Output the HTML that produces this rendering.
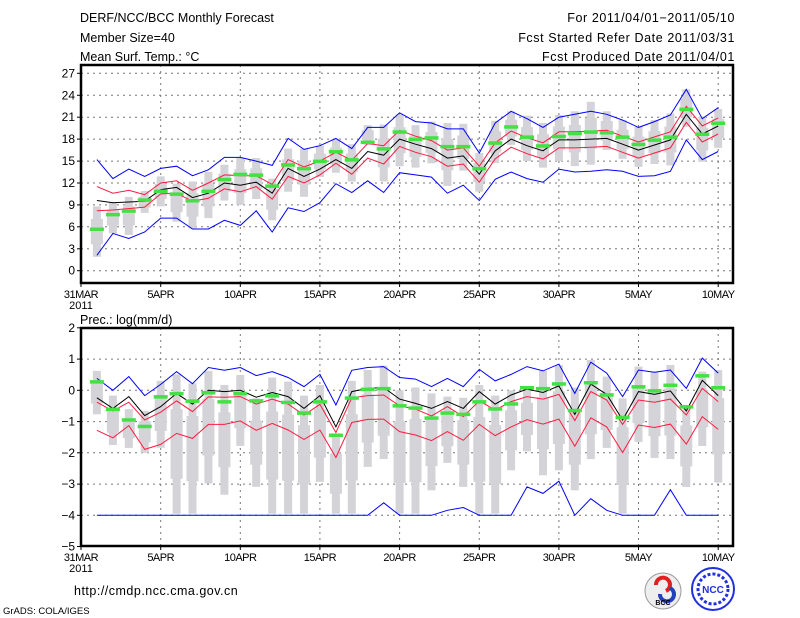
<!DOCTYPE html>
<html><head><meta charset="utf-8"><style>
body{margin:0;background:#fff;width:800px;height:618px;overflow:hidden}
svg{display:block;font-family:"Liberation Sans",sans-serif}
</style></head><body>
<svg id="s" width="800" height="618" xmlns="http://www.w3.org/2000/svg"></svg>
<script>
var S=document.getElementById('s'),h='';
function X(d){return 81+15.93*d}
function Yt(v){return 270.7-7.31*v}
function Yb(v){return 390.3-31.25*v}
function poly(a,Y,c,w){var p=[];for(var i=0;i<a.length;i++)p.push(X(i+1).toFixed(1)+','+Y(a[i]).toFixed(1));h+='<polyline points="'+p.join(' ')+'" fill="none" stroke="'+c+'" stroke-width="'+(w||1)+'"/>';}
var tbu=[15.2,12.6,13.9,12.9,14.0,14.3,13.0,13.8,15.5,15.5,15.0,14.4,18.1,16.6,17.1,18.1,16.7,19.6,19.6,21.6,20.4,20.2,19.4,19.4,16.1,20.2,21.8,20.8,19.6,21.0,21.4,21.8,21.4,20.6,19.6,20.4,21.3,24.8,20.8,22.3];
var tbl=[2.1,5.1,4.4,5.3,7.2,7.2,5.7,5.7,6.9,6.2,8.2,5.3,8.6,8.1,9.3,11.9,10.7,12.3,10.7,13.4,13.1,12.8,10.6,11.7,9.6,12.5,13.5,12.6,12.1,13.9,13.5,13.6,13.8,13.6,12.9,13.0,13.6,17.9,15.2,16.3];
var tk=[9.6,9.3,9.4,9.5,11.1,11.4,10.0,10.6,12.0,11.7,12.1,10.6,14.0,12.9,13.9,15.2,14.0,16.3,15.8,18.0,17.3,16.7,15.4,15.7,13.2,16.4,18.0,17.1,16.4,17.9,17.9,18.0,18.1,17.3,16.5,17.2,17.9,21.4,18.7,19.8];
var tru=[11.5,10.6,11.0,10.4,12.0,12.3,11.0,12.0,13.1,13.0,13.0,11.8,15.2,14.2,15.0,16.2,15.1,17.4,17.1,19.2],trl=[8.2,8.3,8.5,8.7,10.5,10.6,9.5,9.9,11.2,10.8,11.5,9.8,12.9,12.0,13.1,14.7,13.2,15.4,14.6,17.0];
for(var i=20;i<40;i++){tru.push(tk[i]+1.1);trl.push(tk[i]-1.1);}
var tg=[5.7,7.7,8.2,9.7,10.9,10.5,9.6,10.9,12.5,13.2,13.1,11.6,14.5,14.0,15.0,16.3,15.2,17.6,16.7,19.0,18.0,18.2,17.0,17.0,14.0,17.5,19.7,18.3,17.1,18.4,18.8,19.0,18.9,18.3,17.3,17.9,18.3,22.1,18.7,20.2];
var tgr=[[8.8,1.9],[9.4,5.1],[10.1,4.9],[10.9,7.9],[12.9,8.8],[11.9,6.7],[12.2,5.8],[13.5,7.2],[14.5,9.6],[15.5,9.0],[15.4,9.8],[12.6,6.9],[16.7,10.8],[16.7,10.1],[17.1,12.8],[18.0,13.4],[17.3,12.2],[19.9,17.2],[20.0,12.2],[21.4,14.3],[19.9,14.1],[20.4,14.7],[20.2,11.6],[20.1,13.7],[16.1,10.8],[20.5,14.7],[21.8,17.2],[21.2,15.0],[20.2,14.1],[21.3,15.0],[21.8,14.3],[23.1,14.5],[21.8,16.5],[20.6,15.3],[19.7,14.2],[20.6,14.6],[21.5,14.4],[24.8,19.7],[21.1,14.9],[22.1,16.8]];
var bbu=[0.38,0,0.44,-0.17,0.19,0.6,0.21,0.73,0.64,0.73,0.47,0.6,0.41,0.12,0.51,-0.47,0.64,0.73,0.76,0.41,0.36,0.12,0.38,0.12,0.67,0.3,0.51,0.76,0.62,0.84,-0.1,0.9,0.55,-0.2,0.65,0.58,0.65,0.06,1.03,0.55];
var bk=[-0.24,-0.58,-0.2,-0.81,-0.52,-0.1,-0.44,0,-0.04,0,-0.22,-0.07,-0.2,-0.58,-0.17,-1.17,-0.04,0.06,0.09,-0.28,-0.42,-0.58,-0.36,-0.58,-0.04,-0.44,-0.15,0.04,-0.07,0.14,-0.77,0.2,-0.13,-0.95,-0.04,-0.13,-0.02,-0.66,0.32,-0.17];
var bru=[-0.38,-0.66,-0.38,-0.95,-0.7,-0.34,-0.68,-0.21,-0.22,-0.2,-0.44,-0.28,-0.44,-0.79,-0.45,-1.35,-0.24,-0.17,-0.15,-0.5,-0.6,-0.82,-0.52,-0.84,-0.34,-0.63,-0.36,-0.2,-0.28,-0.13,-0.97,-0.04,-0.31,-1.09,-0.31,-0.38,-0.28,-0.79,0.06,-0.36];
var brl=[-1.28,-1.52,-1.13,-1.89,-1.73,-1.38,-1.54,-1.09,-1.09,-0.98,-1.28,-1.06,-1.27,-1.57,-1.27,-2.15,-1.03,-0.93,-0.92,-1.32,-1.43,-1.61,-1.32,-1.6,-1.09,-1.45,-1.17,-0.94,-1.08,-0.92,-1.79,-0.88,-1.17,-1.99,-1.11,-1.19,-1.08,-1.72,-0.84,-1.25];
var bbl=[];for(i=0;i<40;i++)bbl.push(-4);bbl[18]=-3.6;bbl[22]=-3.84;bbl[23]=-3.75;bbl[27]=-3.09;bbl[28]=-3.3;bbl[29]=-2.91;bbl[31]=-3.47;bbl[32]=-3.84;bbl[36]=-3.18;
var bg=[0.28,-0.6,-0.94,-1.15,-0.2,-0.1,-0.34,-0.07,-0.36,-0.1,-0.33,-0.17,-0.38,-0.72,-0.36,-1.43,-0.24,0.04,0.06,-0.49,-0.56,-0.88,-0.72,-0.76,-0.36,-0.59,-0.43,0.09,0.06,0.21,-0.64,0.25,-0.14,-0.86,0.12,-0.01,0.17,-0.52,0.47,0.09];
var bgr=[[0.62,-0.77],[-0.17,-1.75],[-0.6,-1.84],[-0.66,-2.0],[0.3,-1.84],[0.51,-3.95],[0.22,-3.95],[0.62,-2.98],[0.17,-3.34],[0.49,-1.78],[-0.26,-3.09],[0.41,-3.95],[0.28,-3.95],[-0.17,-3.95],[0.17,-2.93],[-1.38,-3.95],[0.3,-3.95],[0.65,-2.45],[0.79,-2.2],[0,-3.95],[0.09,-3.95],[-0.1,-3.2],[-0.2,-2.32],[-0.24,-3.09],[0.17,-3.95],[-0.17,-3.95],[0,-2.56],[0.12,-1.95],[0.62,-2.72],[0.81,-2.56],[0.09,-3.2],[0.97,-2.2],[0.44,-1.84],[-0.26,-3.95],[0.76,-1.65],[0.6,-2.16],[0.81,-2.2],[-0.47,-3.09],[0.6,-1.78],[0.65,-2.95]];
function panel(y0,y1,Y,vals,gr,g,bu,bl,ru,rl,k){
 vals.forEach(function(v){var y=Y(v).toFixed(1);if(y>y0+1&&y<y1-1)h+='<line x1="81" x2="733" y1="'+y+'" y2="'+y+'" stroke="#777" stroke-dasharray="2,4"/>';});
 for(var d=5;d<=40;d+=5)h+='<line x1="'+X(d).toFixed(1)+'" x2="'+X(d).toFixed(1)+'" y1="'+y0+'" y2="'+y1+'" stroke="#777" stroke-dasharray="2,4"/>';
 for(var i=0;i<40;i++){var a=Y(gr[i][0]),b=Y(gr[i][1]);var m=(a+b)/2,q=(b-a)/4;h+='<rect x="'+(X(i+1)-4).toFixed(1)+'" y="'+a.toFixed(1)+'" width="8" height="'+(b-a).toFixed(1)+'" fill="#d3d3d8"/>';h+='<rect x="'+(X(i+1)-6).toFixed(1)+'" y="'+(m-q).toFixed(1)+'" width="12" height="'+(2*q).toFixed(1)+'" fill="#d3d3d8"/>';}
 poly(bu,Y,'#0000ff');poly(bl,Y,'#0000ff');poly(ru,Y,'#ff1a40');poly(rl,Y,'#ff1a40');poly(k,Y,'#000');
 for(i=0;i<40;i++)h+='<rect x="'+(X(i+1)-7).toFixed(1)+'" y="'+(Y(g[i])-1.5).toFixed(1)+'" width="14" height="3.5" fill="#44e044"/>';
 h+='<rect x="81" y="'+y0+'" width="652" height="'+(y1-y0)+'" fill="none" stroke="#000" stroke-width="2.5"/>';
 vals.forEach(function(v){var y=Y(v);h+='<line x1="77" x2="81" y1="'+y.toFixed(1)+'" y2="'+y.toFixed(1)+'" stroke="#000"/><text x="75" y="'+(y+4).toFixed(1)+'" font-size="12" text-anchor="end">'+(v<0?'\u2212'+(-v):v)+'</text>';});
 var labs=['31MAR','5APR','10APR','15APR','20APR','25APR','30APR','5MAY','10MAY'];
 for(var j=0;j<9;j++){var x=j==0?81:X(j*5);h+='<line x1="'+x.toFixed(1)+'" x2="'+x.toFixed(1)+'" y1="'+y1+'" y2="'+(y1+4)+'" stroke="#000"/><text x="'+x.toFixed(1)+'" y="'+(y1+15)+'" font-size="11" text-anchor="middle" letter-spacing="-0.5">'+labs[j]+'</text>';}
 h+='<text x="81" y="'+(y1+26)+'" font-size="11" text-anchor="middle">2011</text>';
}
panel(65,283,Yt,[0,3,6,9,12,15,18,21,24,27],tgr,tg,tbu,tbl,tru,trl,tk);
panel(328,546,Yb,[2,1,0,-1,-2,-3,-4,-5],bgr,bg,bbu,bbl,bru,brl,bk);
h+='<g font-size="12.5"><text x="80" y="22">DERF/NCC/BCC Monthly Forecast</text><text x="80" y="42">Member Size=40</text><text x="80" y="61">Mean Surf. Temp.: °C</text>';
h+='<g letter-spacing="0.6"><text x="735" y="22" text-anchor="end">For 2011/04/01−2011/05/10</text><text x="735" y="42" text-anchor="end">Fcst Started Refer Date 2011/03/31</text><text x="735" y="61" text-anchor="end">Fcst Produced Date 2011/04/01</text></g>';
h+='<text x="80" y="324">Prec.: log(mm/d)</text><text x="74" y="595" letter-spacing="0.5">http://cmdp.ncc.cma.gov.cn</text></g>';
h+='<text x="3" y="614" font-size="9.5">GrADS: COLA/IGES</text>';
h+='<circle cx="663" cy="591" r="18" fill="#eee" stroke="#999"/><path d="M656 585a7 7 0 1 1 10 6" fill="none" stroke="#e02020" stroke-width="4"/><path d="M670 588a7 7 0 1 1 -10 6" fill="none" stroke="#2040c0" stroke-width="4"/><text x="663" y="605" font-size="7" text-anchor="middle" font-weight="bold">BCC</text>';
h+='<circle cx="713" cy="589" r="21" fill="#fff" stroke="#2030e0" stroke-width="2"/><circle cx="713" cy="589" r="15" fill="none" stroke="#2030e0" stroke-width="3" stroke-dasharray="3,2"/><text x="713" y="593" font-size="10" fill="#2030e0" text-anchor="middle" font-weight="bold">NCC</text>';
S.innerHTML=h;
</script>
</body></html>
